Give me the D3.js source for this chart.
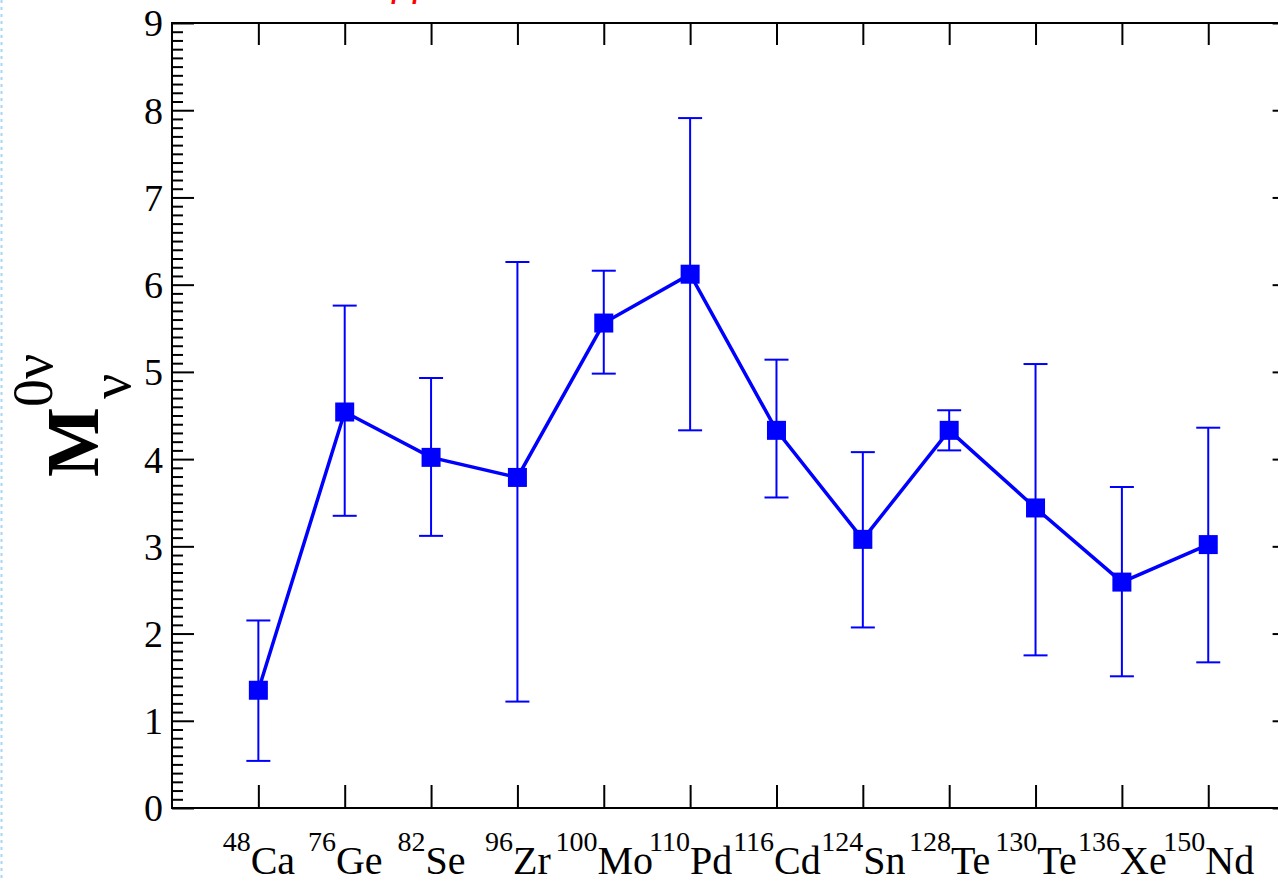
<!DOCTYPE html>
<html>
<head>
<meta charset="utf-8">
<script src="https://cdn.jsdelivr.net/npm/d3@7"></script>
<style>
  body { margin: 0; background: #fff; }
  svg { display: block; }
  .tick text { font-family: "Liberation Serif", "Times New Roman", serif; fill: #000; }
</style>
</head>
<body>
<div class="chart"></div>
<script>
// nuclei on the x axis
var masses   = ["48", "76", "82", "96", "100", "110", "116", "124", "128", "130", "136", "150"];
var elements = ["Ca", "Ge", "Se", "Zr", "Mo", "Pd", "Cd", "Sn", "Te", "Te", "Xe", "Nd"];

// central value and error bar ends
var values = [1.35, 4.54, 4.02, 3.79, 5.56, 6.12, 4.33, 3.08, 4.33, 3.44, 2.59, 3.02];
var upper  = [2.15, 5.76, 4.93, 6.26, 6.16, 7.91, 5.14, 4.08, 4.56, 5.09, 3.68, 4.36];
var lower  = [0.54, 3.35, 3.12, 1.22, 4.98, 4.33, 3.56, 2.07, 4.10, 1.75, 1.51, 1.67];

var yTicks = [0, 1, 2, 3, 4, 5, 6, 7, 8, 9];

function wrapper(){

  var w = 1278, h = 882;
  var svg = d3.select("div.chart")
              .append("svg")
              .attr("width", w)
              .attr("height", h);

  // frame of the plot (right edge falls just outside the picture)
  var left = 172, right = 1294.6, top = 23, bottom = 808;
  var blue = "#0000ff";
  var serif = "'Liberation Serif', 'Times New Roman', serif";

  var x = d3.scaleLinear().domain([0, 13]).range([left, right]);
  var y = d3.scaleLinear().domain([0, 9]).range([bottom, top]);

  var data = values.map(function(v, i){
    return { i: i + 1, v: v, hi: upper[i], lo: lower[i] };
  });

  // page edge, dotted
  svg.append("line")
     .attr("x1", 1.5).attr("x2", 1.5)
     .attr("y1", 0).attr("y2", h)
     .attr("stroke", "#a9d6f2")
     .attr("stroke-width", 2)
     .attr("stroke-dasharray", "3,4");

  // cropped red title, only the bottom shows
  svg.append("text")
     .attr("x", 392).attr("y", -5)
     .attr("font-family", serif)
     .attr("font-style", "italic")
     .attr("font-size", 42)
     .attr("fill", "#ff0000")
     .text("ββ");

  // left axis: minor ticks every 0.1, majors every 1
  var minor = d3.range(0, 90).map(function(k){ return k / 10; }).filter(function(t){ return Math.round(t * 10) % 10 !== 0; });

  svg.append("g")
     .attr("transform", `translate(${left},0)`)
     .call(d3.axisLeft(y).tickValues(minor).tickSize(-11).tickFormat(""))
     .call(function(g){ g.select(".domain").remove(); g.selectAll("line").attr("stroke", "#000").attr("stroke-width", 2); });

  var yAxis = svg.append("g")
     .attr("transform", `translate(${left},0)`)
     .call(d3.axisLeft(y).tickValues(yTicks).tickSize(-22).tickPadding(9).tickFormat(d3.format("d")))
     .attr("font-family", serif);
  yAxis.select(".domain").remove();
  yAxis.selectAll("line").attr("stroke", "#000").attr("stroke-width", 2);
  yAxis.selectAll("text").attr("font-size", 38).attr("dy", "0.34em").attr("x", -9);

  // right axis, majors only visible
  svg.append("g")
     .attr("transform", `translate(${right},0)`)
     .call(d3.axisRight(y).tickValues(yTicks).tickSize(-22).tickFormat(""))
     .call(function(g){ g.select(".domain").remove(); g.selectAll("line").attr("stroke", "#000").attr("stroke-width", 2); });

  // top axis
  svg.append("g")
     .attr("transform", `translate(0,${top})`)
     .call(d3.axisTop(x).tickValues(d3.range(1, 13)).tickSize(-22).tickFormat(""))
     .call(function(g){ g.select(".domain").remove(); g.selectAll("line").attr("stroke", "#000").attr("stroke-width", 2); });

  // bottom axis with nucleus labels
  var xAxis = svg.append("g")
     .attr("transform", `translate(0,${bottom})`)
     .call(d3.axisBottom(x).tickValues(d3.range(1, 13)).tickSize(-23).tickFormat(""))
     .attr("font-family", serif);
  xAxis.select(".domain").remove();
  xAxis.selectAll("line").attr("stroke", "#000").attr("stroke-width", 2);
  xAxis.selectAll(".tick").each(function(d){
    var t = d3.select(this).select("text")
              .attr("y", 66)
              .attr("dy", null)
              .attr("text-anchor", "middle");
    t.append("tspan").attr("font-size", 28).attr("dy", -23).text(masses[d - 1]);
    t.append("tspan").attr("font-size", 40).attr("dy", 23).text(elements[d - 1]);
  });

  // frame
  svg.append("rect")
     .attr("x", left).attr("y", top)
     .attr("width", right - left).attr("height", bottom - top)
     .attr("fill", "none")
     .attr("stroke", "#000")
     .attr("stroke-width", 2);

  // y axis title  M_ν^{0ν}
  var title = svg.append("g")
     .attr("transform", "translate(98,477) rotate(-90)")
     .attr("font-family", serif);
  title.append("text").attr("x", 0).attr("y", 0)
       .attr("font-size", 74).attr("font-weight", "bold").text("M");
  title.append("text").attr("x", 78).attr("y", 32)
       .attr("font-size", 56).text("ν");
  title.append("text").attr("x", 70).attr("y", -46)
       .attr("font-size", 56).text("0ν");

  // error bars
  var bars = svg.append("g").selectAll(".err")
     .data(data)
     .enter()
     .append("g")
     .attr("class", "err")
     .attr("stroke", blue)
     .attr("stroke-width", 2);
  bars.append("line")
      .attr("x1", d => x(d.i)).attr("x2", d => x(d.i))
      .attr("y1", d => y(d.hi)).attr("y2", d => y(d.lo));
  bars.append("line")
      .attr("x1", d => x(d.i) - 12).attr("x2", d => x(d.i) + 12)
      .attr("y1", d => y(d.hi)).attr("y2", d => y(d.hi));
  bars.append("line")
      .attr("x1", d => x(d.i) - 12).attr("x2", d => x(d.i) + 12)
      .attr("y1", d => y(d.lo)).attr("y2", d => y(d.lo));

  // connecting line
  var line = d3.line().x(d => x(d.i)).y(d => y(d.v));
  svg.append("path")
     .datum(data)
     .attr("d", line)
     .attr("fill", "none")
     .attr("stroke", blue)
     .attr("stroke-width", 3.5);

  // square markers
  var s = 19;
  svg.append("g").selectAll("rect")
     .data(data)
     .enter()
     .append("rect")
     .attr("x", d => x(d.i) - s / 2)
     .attr("y", d => y(d.v) - s / 2)
     .attr("width", s)
     .attr("height", s)
     .attr("fill", blue);
}
window.onload = wrapper;
</script>
</body>
</html>
